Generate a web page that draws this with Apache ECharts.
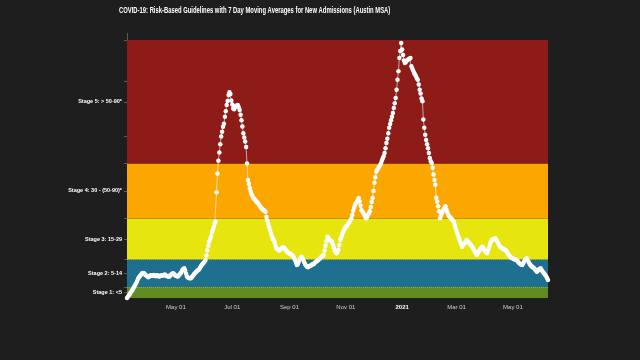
<!DOCTYPE html>
<html><head><meta charset="utf-8">
<script src="https://cdn.jsdelivr.net/npm/echarts@6/dist/echarts.min.js"></script>
<style>html,body{margin:0;background:#1e1e1e}#c{width:640px;height:360px}</style>
</head><body><div id="c"></div>
<script>
const chartTitle = "COVID-19: Risk-Based Guidelines with 7 Day Moving Averages for New Admissions (Austin MSA)";
const startDate = [2020, 2, 9]; // first day of the series (Mar 9, 2020)
const endDate = [2021, 5, 8];   // last day (Jun 8, 2021)
const admissions = [
0,0.5,1,1.5,2,2.5,3,3.6,4.2,4.8,
5.5,6.2,7,7.6,8,8.4,8.9,9,9.1,8.8,
8.4,8.2,7.9,7.6,7.8,8.1,8.3,8,8.3,8.4,
8.1,7.9,8.2,8.3,7.9,7.8,8,8.3,8.1,8.2,
8.4,8.6,8.2,8,7.9,7.7,7.8,8.3,8.6,8.8,
9,8.7,8.3,8.1,7.9,7.8,8.2,8.6,9,9.5,
10.2,10.6,10.8,10,8.8,7.8,7.5,7.3,7.2,7.2,
7.5,7.9,8.4,8.8,9.2,9.6,9.8,10.2,10.4,11,
11.6,12,12.5,12.8,13.3,13.8,15.5,17.4,19,20.5,
21.5,22.4,24,25,26,27.2,27.8,38.5,45.4,50,
53,56,58.8,60.6,62.4,63.5,66,68,70.3,71.8,
74,75,74.3,72,70.5,69,68.8,69.5,70,69.8,
70.3,69.5,68.5,66.8,64.8,62.5,60,58.5,57,55,
49,43,41.5,40,38.8,37.8,37,36.3,36,35.7,
35.2,34.8,34.5,34,33.3,33,32.6,32.2,32,31.8,
31.4,29.5,28.2,27,25.8,24.6,23.5,22.4,21.5,21,
20,18.9,18,17.8,17.5,17.3,17.6,17.9,18.2,18.4,
18.3,18,17.5,17,16.6,16.4,16.2,16,15.8,15.7,
15.2,14.6,13.8,12.8,12,12.4,13.2,13.9,14.5,15,
14.4,13.8,13,12.2,11.8,11.4,11.2,11.5,11.7,11.8,
12,12.4,12.3,12.7,13,13.3,13.5,13.8,14.1,14.4,
14.8,15.1,15.4,15.7,17.3,19,20.7,22.3,21.8,21.4,
21,20.8,20.5,19.5,18.5,17.4,16.7,16.3,16.8,17.6,
19.3,21.2,22,23,24,24.8,25.5,25.8,26.2,26.7,
27.2,27.8,28.4,29,30.2,31.8,33,34,34.6,35,
35.8,36.4,35.2,33.6,32,31.5,31,30.3,29.6,29,
29.5,30.2,30.8,31.6,33.2,35,36.4,39,42,44,
46,46.6,47.2,47.8,48.4,49,50,50.8,51.6,52.8,
54.6,56.5,58,60,62,63.4,64.8,66,67.4,69.2,
71,72.9,75.9,79.5,82.6,87.4,90,92.9,90.5,88.5,
86.5,85.6,86,86.4,86.8,87,87.2,87.4,84.4,83.6,
82.8,82,81.4,80.8,80,79.5,77.8,75.9,74.5,72.7,
71.7,65,62,59.5,57.6,56,54.6,52.8,51,49.8,
49.2,47.5,45,43,41.3,36.5,35.2,33.4,31.6,29.1,
30,30.8,31.6,32.3,32.9,33.4,32.2,31.2,30.2,29.8,
29.4,29,28.6,28.2,27.8,26.6,25.4,24.4,23.3,22.3,
21.3,20.3,19.5,18.7,19.2,19.7,20.2,20.6,21.1,20.6,
20.2,19.9,19.5,19,18.5,18.1,17.4,16.8,16.2,15.7,
16.3,16.9,17.5,18,18.4,18.7,18.2,17.6,17,16.6,
16.3,17.2,18.2,19.3,20.3,21.1,21.3,21.5,21.6,21.7,
21.2,20.6,20,19.3,18.7,18.4,18.2,18,17.8,17.6,
17.5,17,16.5,16,15.5,15,14.8,14.6,14.4,14.2,
14,13.9,13.8,13.4,13,12.7,12.4,12.2,12,12.6,
13.2,13.8,14.2,14.5,13.8,13.1,12.5,12,11.6,11.4,
11.1,10.8,10.4,10,9.6,10,10.4,10.6,10.8,10.2,
9.7,9.3,8.8,8.4,7.9,7.3,6.6
];
const stageNames = ["Stage 1: <5","Stage 2: 5-14","Stage 3: 15-29","Stage 4: 30 - (50-90)*","Stage 5: > 50-90*"];
const stageEdges = [0, 4, 14, 29, 49, 94];
const stageColors = ["#5f8b20","#1f6f8f","#e6e60e","#fca600","#8d1b17"];
const xTickDates = [[2020,4,1],[2020,6,1],[2020,8,1],[2020,10,1],[2021,0,1],[2021,2,1],[2021,4,1]];
const xTickLabels = ["May 01","Jul 01","Sep 01","Nov 01","2021","Mar 01","May 01"];

const t0 = Date.UTC(startDate[0], startDate[1], startDate[2]);
const tEnd = Date.UTC(endDate[0], endDate[1], endDate[2]);
const seriesData = admissions.map((v, i) => [Date.UTC(startDate[0], startDate[1], startDate[2] + i), v]);
const xTicks = xTickDates.map(a => Date.UTC(a[0], a[1], a[2]));
const labelMids = stageNames.map((n, i) => (stageEdges[i] + stageEdges[i + 1]) / 2);
const yTicks = stageEdges.slice(1, 5).concat(labelMids).concat([59, 79, 94]);

const bands = stageColors.map((c, i) => [
  { yAxis: stageEdges[i], itemStyle: { color: c } },
  { yAxis: stageEdges[i + 1] }
]);

const chart = echarts.init(document.getElementById('c'));
chart.setOption({
  backgroundColor: '#1e1e1e',
  animation: false,
  graphic: [{
    type: 'text', left: 119, top: 6,
    style: { text: chartTitle, fill: '#ffffff', font: 'bold 8.5px "Liberation Sans", Arial, sans-serif' },
    scaleX: 0.69
  }, {
    type: 'line', shape: { x1: 127.5, y1: 33, x2: 127.5, y2: 40 },
    style: { stroke: '#5a5a5a', lineWidth: 1 }
  }],
  grid: { left: 127, right: 92, top: 40, bottom: 62 },
  xAxis: {
    type: 'value', min: t0, max: tEnd,
    axisLine: { show: false },
    axisTick: { show: false },
    splitLine: { show: false },
    axisLabel: {
      customValues: xTicks,
      color: '#d0d0d0', fontSize: 6, margin: 6,
      fontFamily: '"Liberation Sans", Arial, sans-serif',
      rich: { y: { color: '#ffffff', fontWeight: 'bold', fontSize: 6 } },
      formatter: v => {
        const i = xTicks.indexOf(v);
        if (i < 0) return '';
        return /^\d{4}$/.test(xTickLabels[i]) ? '{y|' + xTickLabels[i] + '}' : xTickLabels[i];
      }
    }
  },
  yAxis: {
    type: 'value', min: 0, max: 94,
    axisLine: { show: true, lineStyle: { color: '#5a5a5a', width: 1 } },
    axisTick: { show: true, customValues: yTicks, length: 3, lineStyle: { color: '#5a5a5a' } },
    splitLine: { show: false },
    axisLabel: {
      customValues: labelMids,
      color: '#ffffff', fontSize: 5.5, fontWeight: 'bold', margin: 5,
      fontFamily: '"Liberation Sans", Arial, sans-serif',
      formatter: v => { const i = labelMids.indexOf(v); return i >= 0 ? stageNames[i] : ''; }
    }
  },
  series: [
    {
      type: 'line', data: [], silent: true,
      markArea: { silent: true, data: bands },
      markLine: {
        silent: true, symbol: 'none', label: { show: false },
        lineStyle: { color: 'rgba(255,255,255,0.25)', type: 'dotted', width: 1 },
        data: [{ yAxis: stageEdges[1] }, { yAxis: stageEdges[2] }]
      }
    },
    {
      type: 'line', data: seriesData,
      symbol: 'circle', symbolSize: 4.5, showSymbol: true,
      itemStyle: { color: '#ffffff' },
      lineStyle: { color: 'rgba(255,255,255,0.6)', width: 1 },
      z: 5
    }
  ]
});
</script>
</body></html>
